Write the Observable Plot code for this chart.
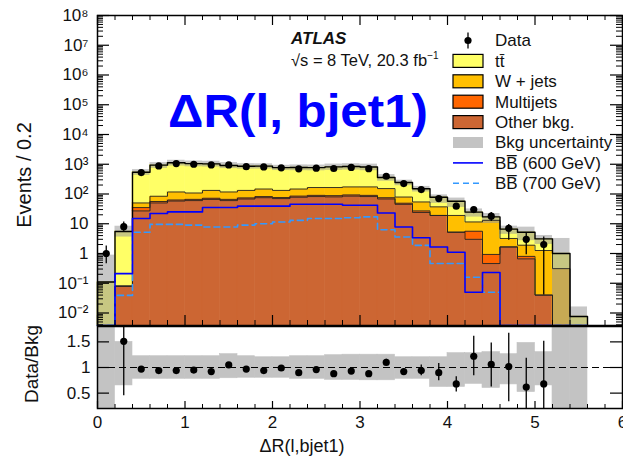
<!DOCTYPE html>
<html>
<head>
<meta charset="utf-8">
<script src="https://cdn.jsdelivr.net/npm/d3@7"></script>
<script src="https://cdn.jsdelivr.net/npm/@observablehq/plot@0.6"></script>
<style>
html, body { margin: 0; padding: 0; background: #fff; overflow: hidden; }
#wrap { position: relative; width: 623px; height: 463px; overflow: hidden; }
#wrap svg { position: absolute; left: 0; }
</style>
</head>
<body>
<div id="wrap"></div>
<script>
// ---------------- data ----------------
const binWidth = 0.2;
const binCenters = [0.1,0.3,0.5,0.7,0.9,1.1,1.3,1.5,1.7,1.9,2.1,2.3,2.5,2.7,2.9,3.1,3.3,3.5,3.7,3.9,4.1,4.3,4.5,4.7,4.9,5.1,5.3,5.5];

const otherBkg  = [0,0.08,27,50,58,60,66,60,68,75,70,78,82,80,85,82,68,45,24,19,5.2,3.0,0.46,1.66,0.66,0.04,0,0];
const multijets = [0,0,8,6,5,6,6,6,6,7,6,7,8,8,8,8,7,4,3,0,0,2.6,0.47,0,0.14,0,0,0];
const wjets     = [0,0,15,28,54,42,60,51,58,65,56,62,75,77,80,83,77,30,27,18,13.8,5.9,12.07,1.54,1.1,1.22,0.31,0];
const ttbar     = [0.11,5.42,491,847,1000,945,901,788,724,715,636,631,606,653,666,634,207,164,96,41,38,13.1,4,3.4,3.3,1.84,0.69,0.0076];

const dataCounts = [1,8,525,875,1050,1000,950,950,830,810,760,700,740,720,780,710,395,224,141,70,39,30,18,7,3,2];
const dataLo = [0.45,5.2,502,845,1018,968,919,919,801,782,732,674,713,693,752,683,375,209,129,62,33,25,12,2.8,0.9,0.04];
const dataHi = [1.8,11.5,548,905,1082,1032,981,981,859,838,788,726,767,747,808,737,415,239,153,78,45,36,24,9.5,4.8,3.6];

const ratioVals = [null,1.51,0.97,0.94,0.94,0.95,0.92,1.05,0.97,0.94,0.99,0.90,0.96,0.88,0.93,0.88,1.10,0.92,0.94,0.90,0.68,1.22,1.06,1.02,0.62,0.68];
const ratioLo   = [null,0.45,0.93,0.91,0.91,0.92,0.89,1.01,0.94,0.91,0.96,0.87,0.93,0.85,0.90,0.85,1.04,0.86,0.84,0.74,0.52,0.84,0.62,0.33,0.0,0.0];
const ratioHi   = [null,2.0,1.01,0.97,0.97,0.98,0.95,1.09,1.0,0.97,1.02,0.93,0.99,0.91,0.96,0.91,1.16,0.98,1.05,1.08,0.82,1.61,1.48,1.67,1.18,1.51];

const bandLo = [0,0.65,0.78,0.78,0.78,0.78,0.78,0.79,0.8,0.8,0.8,0.78,0.78,0.76,0.76,0.75,0.75,0.78,0.78,0.62,0.62,0.68,0.6,0.67,0.52,0.65,0,0];
const bandHi = [8,1.5,1.22,1.22,1.22,1.22,1.22,1.26,1.22,1.2,1.2,1.22,1.22,1.24,1.25,1.25,1.25,1.2,1.2,1.2,1.28,1.28,1.3,1.26,1.48,1.3,3.2,2.1];

const bb600 = [null,0.21,15,22,25,25,35,35,39,39,39,45,45,45,42,42,23,7.8,3.4,1.66,1.1,0.05,0.23,null,null,null,null,null];
const bb700 = [null,0.039,5.2,9.5,9.5,9,7.8,7.8,9,10,11.5,13,15,15,16,17,6.3,3.6,1.87,0.46,0.46,0.16,0.05,null,null,null,null,null];

const compNames  = ["Other bkg.", "Multijets", "W + jets", "tt\u0304"];
const compColors = ["#cc6633", "#ff6600", "#ffbf00", "#ffff66"];

const yTickExps = [-2,-1,0,1,2,3,4,5,6,7,8];
const xTickLabels = [0,1,2,3,4,5,6];
const ratioTickLabels = [0.5,1,1.5];

// ---------------- derived tables ----------------
const FONT = "'Liberation Sans', Arial, Helvetica, sans-serif";
const Y_MIN = 0.0038, Y_MAX = 1e8;
const compValues = [otherBkg, multijets, wjets, ttbar];

const stackRows = [];
const cumLevels = compValues.map(() => []);
binCenters.forEach((c, i) => {
  let acc = 0;
  compValues.forEach((arr, k) => {
    const v = arr[i];
    const lo = acc; acc += v;
    cumLevels[k].push(acc);
    if (v > 0) stackRows.push({x1: c - binWidth/2, x2: c + binWidth/2, y1: Math.max(lo, Y_MIN), y2: acc, comp: compNames[k]});
  });
});
const totals = cumLevels[3];

function steps(vals) {
  const pts = [{x: binCenters[0] - binWidth/2, y: Y_MIN}];
  vals.forEach((v, i) => {
    const y = (v == null || v <= Y_MIN) ? Y_MIN : v;
    pts.push({x: binCenters[i] - binWidth/2, y}, {x: binCenters[i] + binWidth/2, y});
  });
  pts.push({x: binCenters[vals.length - 1] + binWidth/2, y: Y_MIN});
  return pts;
}

const bandRows = binCenters.map((c, i) => ({
  x1: c - binWidth/2, x2: c + binWidth/2,
  y1: bandLo[i] > 0 ? totals[i] * bandLo[i] : Y_MIN,
  y2: totals[i] * bandHi[i]
}));
const ratioBandRows = binCenters.map((c, i) => ({x1: c - binWidth/2, x2: c + binWidth/2, y1: bandLo[i], y2: bandHi[i]}));

const dataRows = dataCounts.map((v, i) => ({x: binCenters[i], y: v, lo: dataLo[i], hi: dataHi[i]}));
const ratioRows = ratioVals.map((v, i) => ({x: binCenters[i], y: v, lo: ratioLo[i], hi: ratioHi[i]})).filter(d => d.y != null);

const supMap = {"-":"\u207B","0":"\u2070","1":"\u00B9","2":"\u00B2","3":"\u00B3","4":"\u2074","5":"\u2075","6":"\u2076","7":"\u2077","8":"\u2078","9":"\u2079"};
const yTickVals = yTickExps.map(e => Math.pow(10, e));
const fmtLog = d => {
  const e = Math.round(Math.log10(d));
  if (e === 0) return "1";
  if (e === 1) return "10";
  return "10" + String(e).split("").map(ch => supMap[ch]).join("");
};
const yMinor = [];
for (let e = -3; e <= 7; e++) for (let m = 2; m <= 9; m++) {
  const v = m * Math.pow(10, e);
  if (v > Y_MIN && v < Y_MAX) yMinor.push(v);
}
const xMinor = d3.range(0, 6.0001, 0.2).map(v => +v.toFixed(1)).filter(v => !xTickLabels.includes(v));

// ---------------- top panel ----------------
const W = 623;
const TOP_H = 327, TOP_MT = 15, TOP_MB = 2, ML = 97, MR = 1;
const FW = W - ML - MR, FH = TOP_H - TOP_MT - TOP_MB;

const topPlot = Plot.plot({
  width: W, height: TOP_H,
  marginTop: TOP_MT, marginBottom: TOP_MB, marginLeft: ML, marginRight: MR,
  style: {fontFamily: FONT, fontSize: "17px", color: "#111", background: "transparent", overflow: "visible"},
  x: {domain: [0, 6], axis: null},
  y: {type: "log", domain: [Y_MIN, Y_MAX]},
  color: {domain: compNames, range: compColors},
  marks: [
    Plot.rect(stackRows, {x1: "x1", x2: "x2", y1: "y1", y2: "y2", fill: "comp", stroke: "comp", strokeWidth: 0.6}),
    Plot.rect(bandRows, {x1: "x1", x2: "x2", y1: "y1", y2: "y2", fill: "#999", fillOpacity: 0.55}),
    Plot.line(steps(cumLevels[0]), {x: "x", y: "y", stroke: "#222", strokeWidth: 0.9}),
    Plot.line(steps(cumLevels[1]), {x: "x", y: "y", stroke: "#222", strokeWidth: 0.9}),
    Plot.line(steps(cumLevels[2]), {x: "x", y: "y", stroke: "#222", strokeWidth: 0.9}),
    Plot.line(steps(totals), {x: "x", y: "y", stroke: "#000", strokeWidth: 1.4}),
    Plot.line(steps(bb700), {x: "x", y: "y", stroke: "#3399ff", strokeWidth: 1.6, strokeDasharray: "6,4"}),
    Plot.line(steps(bb600), {x: "x", y: "y", stroke: "#0000ff", strokeWidth: 1.6}),
    Plot.ruleX(dataRows, {x: "x", y1: "lo", y2: "hi", stroke: "#000", strokeWidth: 1.3}),
    Plot.dot(dataRows, {x: "x", y: "y", r: 3.6, fill: "#000", stroke: "none"}),
    // inward ticks
    Plot.tickY(yTickVals, {y: d => d, insetRight: FW - 12, stroke: "#000", strokeWidth: 1.2}),
    Plot.tickY(yMinor, {y: d => d, insetRight: FW - 6, stroke: "#000", strokeWidth: 1}),
    Plot.tickY(yTickVals, {y: d => d, insetLeft: FW - 12, stroke: "#000", strokeWidth: 1.2}),
    Plot.tickY(yMinor, {y: d => d, insetLeft: FW - 6, stroke: "#000", strokeWidth: 1}),
    Plot.tickX(xTickLabels, {x: d => d, insetTop: FH - 10, stroke: "#000", strokeWidth: 1.2}),
    Plot.tickX(xMinor, {x: d => d, insetTop: FH - 5, stroke: "#000", strokeWidth: 1}),
    Plot.tickX(xTickLabels, {x: d => d, insetBottom: FH - 10, stroke: "#000", strokeWidth: 1.2}),
    Plot.tickX(xMinor, {x: d => d, insetBottom: FH - 5, stroke: "#000", strokeWidth: 1}),
    Plot.axisY({ticks: yTickVals, tickSize: 0, tickPadding: 9, tickFormat: fmtLog, fontSize: 17, label: null}),
    Plot.frame({stroke: "#000", strokeWidth: 1.5})
  ]
});

// ---------------- ratio panel ----------------
const BOT_TOP = 325, BOT_H = 138, BOT_MT = 1, BOT_MB = 55;
const RFH = BOT_H - BOT_MT - BOT_MB;
const botPlot = Plot.plot({
  width: W, height: BOT_H,
  marginTop: BOT_MT, marginBottom: BOT_MB, marginLeft: ML, marginRight: MR,
  style: {fontFamily: FONT, fontSize: "17px", color: "#111", background: "transparent", overflow: "visible"},
  x: {domain: [0, 6]},
  y: {domain: [0.2, 1.8]},
  marks: [
    Plot.rect(ratioBandRows, {x1: "x1", x2: "x2", y1: "y1", y2: "y2", fill: "#c3c3c3", stroke: "#c3c3c3", strokeWidth: 0.6, clip: true}),
    Plot.ruleY([1], {stroke: "#000", strokeWidth: 1, strokeDasharray: "7,4"}),
    Plot.ruleX(ratioRows, {x: "x", y1: "lo", y2: "hi", stroke: "#000", strokeWidth: 1.3, clip: true}),
    Plot.dot(ratioRows, {x: "x", y: "y", r: 3.6, fill: "#000", stroke: "none", clip: true}),
    Plot.tickY(ratioTickLabels, {y: d => d, insetRight: FW - 12, stroke: "#000", strokeWidth: 1.2}),
    Plot.tickY(ratioTickLabels, {y: d => d, insetLeft: FW - 12, stroke: "#000", strokeWidth: 1.2}),
    Plot.tickX(xTickLabels, {x: d => d, insetTop: RFH - 7, stroke: "#000", strokeWidth: 1.2}),
    Plot.tickX(xMinor, {x: d => d, insetTop: RFH - 4, stroke: "#000", strokeWidth: 1}),
    Plot.axisX({ticks: xTickLabels, tickSize: 0, tickPadding: 7, fontSize: 17, label: null, tickFormat: d => String(d)}),
    Plot.axisY({ticks: ratioTickLabels, tickSize: 0, tickPadding: 7, fontSize: 17, label: null, tickFormat: d => String(d)}),
    Plot.frame({stroke: "#000", strokeWidth: 1.5})
  ]
});

const wrap = document.getElementById("wrap");
topPlot.style.top = "0px";
botPlot.style.top = BOT_TOP + "px";
wrap.appendChild(topPlot);
wrap.appendChild(botPlot);

// ---------------- overlay texts & legend ----------------
const ov = d3.select(wrap).append("svg")
  .attr("width", W).attr("height", 463)
  .style("top", "0px").style("pointer-events", "none")
  .style("font-family", FONT);

// axis titles
ov.append("text").attr("transform", "translate(31,175) rotate(-90)")
  .attr("text-anchor", "middle").attr("font-size", 20).attr("fill", "#111").text("Events / 0.2");
ov.append("text").attr("transform", "translate(38,364) rotate(-90)")
  .attr("text-anchor", "middle").attr("font-size", 19).attr("fill", "#111").text("Data/Bkg");
ov.append("text").attr("x", 302).attr("y", 452).attr("text-anchor", "middle")
  .attr("font-size", 18).attr("fill", "#111").text("\u0394R(l,bjet1)");

// ATLAS label
ov.append("text").attr("x", 291).attr("y", 44).attr("font-size", 17)
  .attr("font-weight", "bold").attr("font-style", "italic").attr("fill", "#111").text("ATLAS");
const en = ov.append("text").attr("x", 291).attr("y", 66).attr("font-size", 16.5).attr("fill", "#111");
en.append("tspan").text("\u221As = 8 TeV, 20.3 fb");
en.append("tspan").attr("font-size", 10).attr("dy", -7).text("\u22121");

// big blue title
ov.append("text").attr("x", 168).attr("y", 127).attr("font-size", 46)
  .attr("font-weight", "bold").attr("fill", "#0000ff")
  .attr("textLength", 260).attr("lengthAdjust", "spacingAndGlyphs")
  .text("\u0394R(l, bjet1)");

// legend
const legendItems = [
  {label: "Data", type: "data"},
  {label: compNames[3], type: "box", fill: compColors[3]},
  {label: "W + jets", type: "box", fill: compColors[2]},
  {label: "Multijets", type: "box", fill: compColors[1]},
  {label: "Other bkg.", type: "box", fill: compColors[0]},
  {label: "Bkg uncertainty", type: "band"},
  {label: "BB\u0305 (600 GeV)", type: "line"},
  {label: "BB\u0305 (700 GeV)", type: "dash"}
];
const LX0 = 453, LX1 = 483, LY0 = 40.5, LDY = 20.4;
legendItems.forEach((it, i) => {
  const y = LY0 + i * LDY;
  const g = ov.append("g");
  if (it.type === "data") {
    g.append("line").attr("x1", 468).attr("x2", 468).attr("y1", y - 8).attr("y2", y + 8).attr("stroke", "#000").attr("stroke-width", 1.3);
    g.append("circle").attr("cx", 468).attr("cy", y).attr("r", 3.6).attr("fill", "#000");
  } else if (it.type === "box") {
    g.append("rect").attr("x", LX0).attr("y", y - 6.5).attr("width", LX1 - LX0).attr("height", 13)
      .attr("fill", it.fill).attr("stroke", "#000").attr("stroke-width", 1.2);
  } else if (it.type === "band") {
    g.append("rect").attr("x", LX0).attr("y", y - 5.5).attr("width", LX1 - LX0).attr("height", 11).attr("fill", "#c3c3c3");
  } else if (it.type === "line") {
    g.append("line").attr("x1", LX0).attr("x2", LX1).attr("y1", y).attr("y2", y).attr("stroke", "#0000ff").attr("stroke-width", 1.6);
  } else if (it.type === "dash") {
    g.append("line").attr("x1", LX0).attr("x2", LX1).attr("y1", y).attr("y2", y).attr("stroke", "#3399ff").attr("stroke-width", 1.6).attr("stroke-dasharray", "6,4");
  }
  g.append("text").attr("x", 495).attr("y", y).attr("dy", "0.35em").attr("font-size", 17).attr("fill", "#111").text(it.label);
});
</script>
</body>
</html>
